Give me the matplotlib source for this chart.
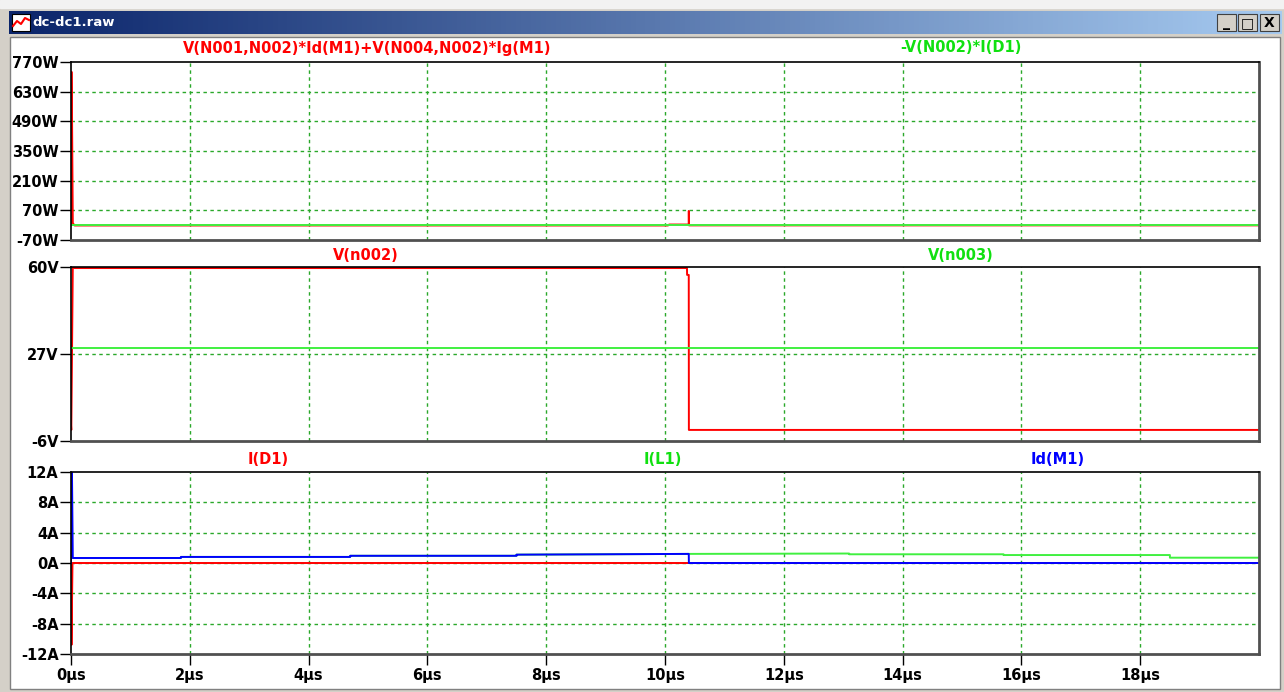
import numpy as np
import matplotlib
matplotlib.use("Agg")
import matplotlib.pyplot as plt
from matplotlib.patches import Rectangle
from matplotlib.colors import LinearSegmentedColormap

W, H = 1284, 692
plt.rcParams['font.family'] = ['DejaVu Sans']
plt.rcParams['font.weight'] = 'bold'

# ---------------- data (time in us) ----------------
# pane 1 : power
t_pm = [0, 0.004, 0.012, 0.03, 0.06, 10.05, 10.07, 10.399, 10.40, 10.402, 10.404, 20]
p_mos = [0, 723, 723, 10, -1.5, -1.5, 3, 3, 67, 67, -1, -1]
t_pd = [0, 10.42, 10.42, 20]
p_diode = [-1.5, -1.5, 3, 3]

# pane 2 : node voltages
t_v2 = [0, 0.005, 0.03, 0.06, 10.37, 10.372, 10.40, 10.402, 20]
v_n002 = [0, -1.8, 60, 59.6, 59.6, 57, 57, -1.8, -1.8]
t_v3 = [0, 20]
v_n003 = [29.4, 29.4]

# pane 3 : currents
t_d1 = [0, 0.008, 0.025, 20]
i_d1 = [0, -10.8, 0, 0]
t_l1 = [0, 1.85, 1.85, 4.7, 4.7, 7.5, 7.5, 10.4, 13.1, 13.1, 15.7, 15.7, 18.5, 18.5, 20]
i_l1 = [0.66, 0.66, 0.8, 0.8, 0.95, 0.95, 1.1, 1.2, 1.25, 1.15, 1.15, 1.05, 1.05, 0.7, 0.7]
t_m1 = [0, 0.004, 0.015, 0.03, 1.85, 1.85, 4.7, 4.7, 7.5, 7.5, 10.4, 10.402, 20]
i_m1 = [0, 13, 13, 0.66, 0.66, 0.8, 0.8, 0.95, 0.95, 1.1, 1.2, 0, 0]

xticks = [0, 2, 4, 6, 8, 10, 12, 14, 16, 18]
ticks1 = [770, 630, 490, 350, 210, 70, -70]
ticks2 = [60, 27, -6]
ticks3 = [12, 8, 4, 0, -4, -8, -12]

RED, GREEN, BLUE = '#ff0000', '#40f040', '#0000ff'
GRID = '#2aa82a'
FS = 10.5

fig = plt.figure(figsize=(W / 100, H / 100), dpi=100)

# ---------------- window chrome ----------------
bg = fig.add_axes([0, 0, 1, 1], zorder=-5)
bg.set_xlim(0, W); bg.set_ylim(H, 0); bg.axis('off')
bg.add_patch(Rectangle((0, 0), W, H, color='#d4d0c8'))
bg.add_patch(Rectangle((0, 0), W, 8, color='#f2f2f2'))
grad = np.linspace(0, 1, 256)[None, :]
cm = LinearSegmentedColormap.from_list('tb', ['#0a246a', '#a6caf0'])
bg.imshow(grad, cmap=cm, extent=[9, 1282, 34, 11], aspect='auto', zorder=1)
bg.add_patch(Rectangle((10, 37), 1270, 652, facecolor='white', edgecolor='#808080', lw=1, zorder=1))
# icon
bg.add_patch(Rectangle((12, 14), 18, 17, facecolor='white', edgecolor='black', lw=0.8, zorder=2))
bg.plot([13, 17, 21, 25, 29], [26, 21, 24, 18, 20], color='red', lw=1.5, zorder=3)
bg.text(32, 23, 'dc-dc1.raw', color='white', fontsize=9.5, va='center', ha='left', zorder=3)
for x0, sym in [(1217, '_'), (1238, '\u25a1'), (1260, 'X')]:
    bg.add_patch(Rectangle((x0, 14), 19, 17, facecolor='#d4d0c8', edgecolor='#404040', lw=0.8, zorder=2))
    bg.text(x0 + 9.5, 23, sym, fontsize=10, va='center', ha='center', zorder=3)


def pane(top, bot):
    ax = fig.add_axes([71 / W, 1 - bot / H, (1259 - 71) / W, (bot - top) / H])
    ax.set_xlim(0, 20)
    for s in ['right', 'bottom']:
        ax.spines[s].set_color('#505050'); ax.spines[s].set_linewidth(2)
    for s in ['left', 'top']:
        ax.spines[s].set_color('black'); ax.spines[s].set_linewidth(1.2)
    ax.tick_params(axis='y', length=8, width=1, labelsize=FS, pad=1)
    ax.tick_params(axis='x', length=0, labelbottom=False)
    for x in xticks[1:]:
        ax.axvline(x, color=GRID, lw=1, ls=(0, (2.5, 2.5)), zorder=0)
    return ax


def hgrid(ax, ticks):
    for y in ticks[1:-1]:
        ax.axhline(y, color=GRID, lw=1, ls=(0, (2.5, 2.5)), zorder=0)


ax1 = pane(62, 240)
ax1.set_ylim(-70, 770)
ax1.set_yticks(ticks1, [f'{v}W' for v in ticks1])
hgrid(ax1, ticks1)
ax1.plot(t_pm, p_mos, color=RED, lw=1.4)
ax1.plot(t_pd, p_diode, color=GREEN, lw=1.4)

ax2 = pane(267, 441)
ax2.set_ylim(-6, 60)
ax2.set_yticks(ticks2, [f'{v}V' for v in ticks2])
hgrid(ax2, ticks2)
ax2.plot(t_v2, v_n002, color=RED, lw=1.4)
ax2.plot(t_v3, v_n003, color=GREEN, lw=1.4)

ax3 = pane(472, 654)
ax3.set_ylim(-12, 12)
ax3.set_yticks(ticks3, [f'{v}A' for v in ticks3])
hgrid(ax3, ticks3)
ax3.plot(t_d1, i_d1, color=RED, lw=1.4)
ax3.plot(t_l1, i_l1, color=GREEN, lw=1.4)
ax3.plot(t_m1, i_m1, color=BLUE, lw=1.4)
ax3.set_xticks(xticks, [f'{v}\u00b5s' for v in xticks])
ax3.tick_params(axis='x', length=8, width=1, labelbottom=True, labelsize=FS, pad=2)

for ax in (ax1, ax2, ax3):
    for lab in ax.get_yticklabels() + ax.get_xticklabels():
        lab.set_fontweight('bold')


# trace names
def name(x, y, s, c):
    fig.text(x / W, 1 - y / H, s, color=c, fontsize=FS, ha='center', va='center', fontweight='bold')


name(367, 48, 'V(N001,N002)*Id(M1)+V(N004,N002)*Ig(M1)', RED)
name(961, 48, '-V(N002)*I(D1)', '#10e010')
name(366, 255, 'V(n002)', RED)
name(961, 255, 'V(n003)', '#10e010')
name(268, 460, 'I(D1)', RED)
name(663, 460, 'I(L1)', '#10e010')
name(1058, 460, 'Id(M1)', BLUE)

fig.savefig('out.png', dpi=100)
